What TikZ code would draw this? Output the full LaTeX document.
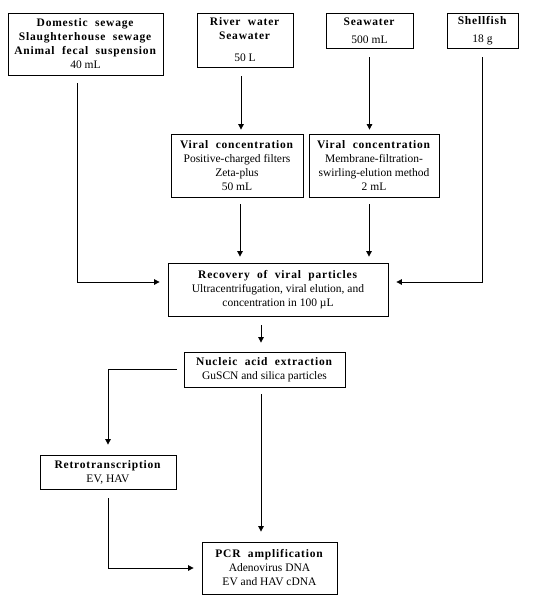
\documentclass[tikz,border=0pt]{standalone}
\usepackage{fontspec}
\setmainfont{Liberation Serif}[BoldFeatures={LetterSpace=7,WordSpace=2}]
\usetikzlibrary{arrows.meta}

\begin{document}
\begin{tikzpicture}[x=1pt,y=-1pt,
  box/.style={draw,line width=0.8pt,align=center,inner sep=0pt,font=\fontsize{11.5}{14}\selectfont},
  arr/.style={-{Triangle[length=5.5pt,width=5.5pt]},line width=0.8pt}]
  \useasboundingbox (0,0) rectangle (533,614);

  \node[box,minimum width=155pt,minimum height=62pt] (dom) at (85.5,44)
    {\textbf{Domestic sewage}\\ \textbf{Slaughterhouse sewage}\\ \textbf{Animal fecal suspension}\\ 40 mL};
  \node[box,minimum width=96pt,minimum height=54pt] (river) at (245,40)
    {\textbf{River water}\\ \textbf{Seawater}\\[8pt] 50 L};
  \node[box,minimum width=87pt,minimum height=35pt] (sea) at (369.5,30.5)
    {\textbf{Seawater}\\[4pt] 500 mL};
  \node[box,minimum width=71pt,minimum height=35pt] (shell) at (482.5,30.5)
    {\textbf{Shellfish}\\[4pt] 18 g};
  \node[box,minimum width=132pt,minimum height=63pt] (vc1) at (237,165.5)
    {\textbf{Viral concentration}\\ Positive-charged filters\\ Zeta-plus\\ 50 mL};
  \node[box,minimum width=130pt,minimum height=63pt] (vc2) at (374,165.5)
    {\textbf{Viral concentration}\\ Membrane-filtration-\\ swirling-elution method\\ 2 mL};
  \node[box,minimum width=220pt,minimum height=53pt] (rec) at (278,289.5)
    {\textbf{Recovery of viral particles}\\ Ultracentrifugation, viral elution, and\\ concentration in 100 µL};
  \node[box,minimum width=161pt,minimum height=35pt] (nuc) at (264.5,369.5)
    {\textbf{Nucleic acid extraction}\\ GuSCN and silica particles};
  \node[box,minimum width=136pt,minimum height=34pt] (retro) at (108,472)
    {\textbf{Retrotranscription}\\ EV, HAV};
  \node[box,minimum width=135pt,minimum height=52pt] (pcr) at (269.5,568)
    {\textbf{PCR amplification}\\ Adenovirus DNA\\ EV and HAV cDNA};

  \draw[arr,shorten <=8pt,shorten >=8pt] ([xshift=-8.5pt]dom.south) |- ([yshift=7.5pt]rec.west);
  \draw[arr,shorten <=9pt,shorten >=4pt] ([xshift=-4pt]river.south) -- ([xshift=-4pt]river.south |- vc1.north);
  \draw[arr,shorten <=9pt,shorten >=4pt] (sea.south) -- (sea.south |- vc2.north);
  \draw[arr,shorten <=9pt,shorten >=8pt] (shell.south) |- ([yshift=7.5pt]rec.east);
  \draw[arr,shorten <=7pt,shorten >=6pt] ([xshift=3pt]vc1.south) -- ([xshift=3pt]vc1.south |- rec.north);
  \draw[arr,shorten <=7pt,shorten >=6pt] ([xshift=-5pt]vc2.south) -- ([xshift=-5pt]vc2.south |- rec.north);
  \draw[arr,shorten <=9pt,shorten >=9pt] ([xshift=-3.5pt]nuc.north |- rec.south) -- ([xshift=-3.5pt]nuc.north);
  \draw[arr,shorten <=7pt,shorten >=10pt] (nuc.west) -| (retro.north);
  \draw[arr,shorten <=7pt,shorten >=10pt] ([xshift=-3.5pt]nuc.south) -- ([xshift=-3.5pt]nuc.south |- pcr.north);
  \draw[arr,shorten <=9pt,shorten >=8pt] (retro.south) |- (pcr.west);
\end{tikzpicture}
\end{document}
